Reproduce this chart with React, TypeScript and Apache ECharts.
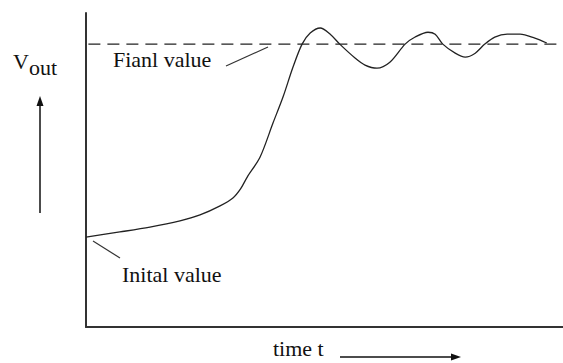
import React, { useEffect, useRef } from "react";
import * as echarts from "echarts";

// Step response: time t (0..10) vs Vout (final value = 1)
const timeT = [0, 0.71, 1.34, 1.97, 2.39, 2.81, 3.08, 3.24, 3.38, 3.65, 3.92, 4.13, 4.34, 4.53, 4.7, 4.91, 5.12, 5.32, 5.64, 5.85, 6.1, 6.37, 6.69, 6.9, 7.17, 7.32, 7.48, 7.74, 7.95, 8.16, 8.36, 8.57, 8.83, 9.1, 9.41, 9.66];
const vout = [0.318, 0.336, 0.353, 0.375, 0.396, 0.428, 0.456, 0.488, 0.53, 0.601, 0.721, 0.813, 0.919, 1.0, 1.039, 1.057, 1.035, 1.0, 0.951, 0.926, 0.915, 0.936, 1.0, 1.025, 1.042, 1.035, 1.0, 0.968, 0.954, 0.968, 1.0, 1.025, 1.035, 1.035, 1.021, 1.004];
const finalValue = 1;
const finalLineX = [0.05, 10];
const xRange = [0, 10];
const yRange = [0, 1.11];

const FONT = "'Liberation Serif', 'DejaVu Serif', serif";

export default function App() {
  const ref = useRef<HTMLDivElement>(null);
  useEffect(() => {
    if (!ref.current) return;
    const chart = echarts.init(ref.current, null, { renderer: "svg" });
    const ink = "#222";
    chart.setOption({
      animation: false,
      backgroundColor: "#fff",
      grid: { left: 86, right: 0, top: 13, bottom: 36 },
      xAxis: {
        type: "value",
        min: xRange[0],
        max: xRange[1],
        axisLine: { show: true, lineStyle: { color: "#333", width: 2 } },
        axisTick: { show: false },
        axisLabel: { show: false },
        splitLine: { show: false },
      },
      yAxis: {
        type: "value",
        min: yRange[0],
        max: yRange[1],
        axisLine: { show: true, lineStyle: { color: "#333", width: 2 } },
        axisTick: { show: false },
        axisLabel: { show: false },
        splitLine: { show: false },
      },
      series: [
        {
          type: "line",
          data: finalLineX.map((x) => [x, finalValue]),
          symbol: "none",
          lineStyle: { color: ink, width: 1.4, type: [12, 7] },
        },
        {
          type: "line",
          data: timeT.map((t, i) => [t, vout[i]]),
          symbol: "none",
          smooth: 0.3,
          lineStyle: { color: ink, width: 1.3 },
        },
      ],
      graphic: [
        {
          type: "text",
          left: 13,
          top: 50,
          style: {
            text: "{v|V}{s|out}",
            font: `22px ${FONT}`,
            fill: "#111",
            rich: {
              v: { font: `22px ${FONT}`, fill: "#111", verticalAlign: "top", padding: [0, 0, 6, 0] },
              s: { font: `22px ${FONT}`, fill: "#111", padding: [6, 0, 0, 0] },
            },
          },
        },
        { type: "line", shape: { x1: 40, y1: 104, x2: 40, y2: 213 }, style: { stroke: "#111", lineWidth: 1.5 } },
        { type: "polygon", shape: { points: [[40, 96], [36.5, 106], [43.5, 106]] }, style: { fill: "#111" } },
        {
          type: "text",
          x: 113,
          y: 70,
          style: { text: "Fianl value", font: `22px ${FONT}`, fill: "#111", textVerticalAlign: "bottom" },
        },
        { type: "line", shape: { x1: 226, y1: 66, x2: 268, y2: 47 }, style: { stroke: "#333", lineWidth: 1.2 } },
        {
          type: "text",
          x: 122,
          y: 285,
          style: { text: "Inital value", font: `22px ${FONT}`, fill: "#111", textVerticalAlign: "bottom" },
        },
        { type: "line", shape: { x1: 93, y1: 241, x2: 120, y2: 258 }, style: { stroke: "#333", lineWidth: 1.2 } },
        {
          type: "text",
          x: 273,
          y: 359,
          style: { text: "time t", font: `22px ${FONT}`, fill: "#111", textVerticalAlign: "bottom" },
        },
        { type: "line", shape: { x1: 340, y1: 357, x2: 452, y2: 357 }, style: { stroke: "#111", lineWidth: 1.5 } },
        { type: "polygon", shape: { points: [[461, 357], [451, 353.5], [451, 360.5]] }, style: { fill: "#111" } },
      ],
    });
    return () => chart.dispose();
  }, []);
  return (
    <div
      ref={ref}
      style={{ position: "fixed", left: 0, top: 0, width: 563, height: 363 }}
    />
  );
}
